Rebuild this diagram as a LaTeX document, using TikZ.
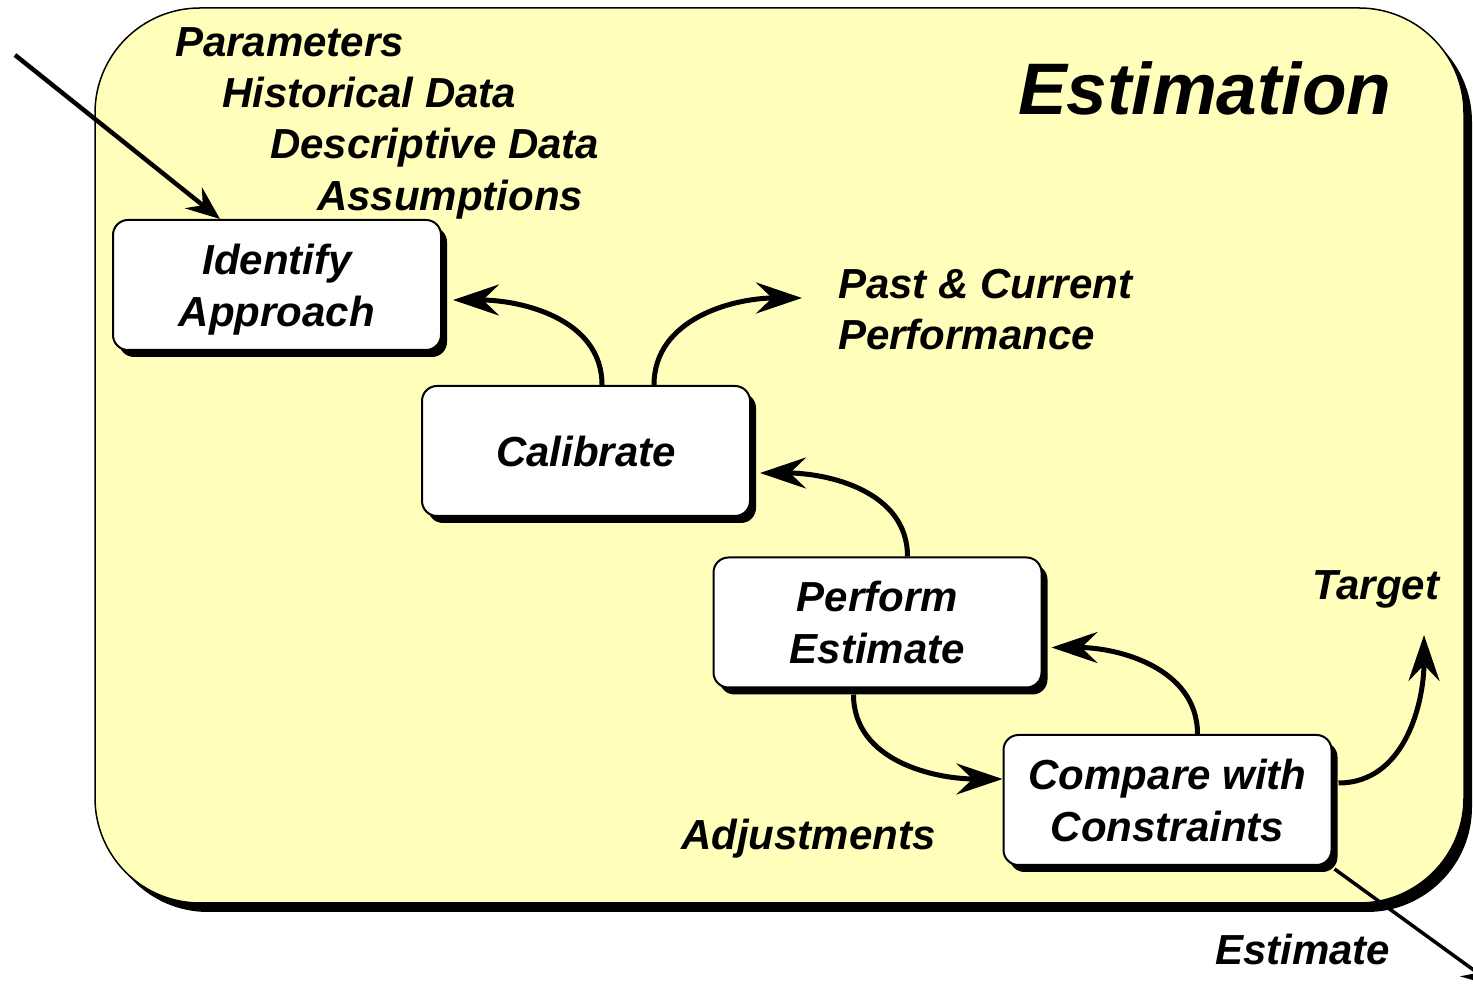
\documentclass[tikz,border=0pt]{standalone}
\usepackage{fontspec}
\setmainfont{Liberation Sans}
\usetikzlibrary{arrows.meta,shadows}
\definecolor{bgyellow}{RGB}{255,255,187}
\newcommand\boxfnt{\fontsize{42}{52}\selectfont\bfseries\itshape}
\newcommand\lblfnt{\fontsize{42}{51}\selectfont\bfseries\itshape}
\newcommand\titlefnt{\fontsize{73}{80}\selectfont\bfseries\itshape}
\begin{document}
\begin{tikzpicture}[x=1pt,y=1pt,
  frame/.style={draw, line width=1.5pt, fill=bgyellow, rounded corners=105pt,
    minimum width=1369pt, minimum height=895pt, inner sep=0pt,
    drop shadow={shadow xshift=8pt, shadow yshift=-9pt, fill=black, opacity=1}},
  box/.style={draw, line width=2pt, fill=white, rounded corners=15pt,
    minimum width=328pt, minimum height=130pt, inner sep=0pt, align=center, font=\boxfnt,
    drop shadow={shadow xshift=6pt, shadow yshift=-7pt, fill=black, opacity=1}},
  lbl/.style={anchor=base west, inner sep=0pt, font=\lblfnt},
  conn/.style={line width=5pt, -{Stealth[length=46pt,width=31pt,inset=16pt]}},
]
\useasboundingbox (0,0) rectangle (1473,985);
\clip (0,0) rectangle (1473,985);

\node[frame] (frame) at (779.5,529.5) {};

\node[anchor=base west, inner sep=0pt, font=\titlefnt] (title) at (1018,870) {Estimation};

\node[lbl] (par) at (175,928) {Parameters};
\node[lbl] (hist) at (222,877) {Historical Data};
\node[lbl] (desc) at (270,826) {Descriptive Data};
\node[lbl] (ass) at (317,774) {Assumptions};
\node[lbl, align=left] (past) at (838,635) {Past \& Current\\Performance};
\node[lbl] (target) at (1312,385) {Target};
\node[lbl] (adj) at (681,135) {Adjustments};
\node[lbl] (est) at (1215,20) {Estimate};

\node[box, text depth=-6pt] (id) at (277,700) {Identify\\Approach};
\node[box] (cal) at (586,534) {Calibrate};
\node[box, text depth=-14pt] (perf) at (877.5,362.5) {Perform\\Estimate};
\node[box, text depth=-4pt] (cmp) at (1167.5,185) {Compare with\\Constraints};

\coordinate (inp) at (15,930);
\coordinate (pst) at (802,687);
\coordinate (tgt) at (1424,350);
\coordinate (outp) at (1497,-2);

\draw[line width=4.5pt, -{Stealth[length=34pt,width=27pt,inset=12pt]}] (inp) -- ([xshift=-57pt]id.north);
\draw[conn] ([xshift=16pt]cal.north) to[out=90,in=0] ([xshift=11pt,yshift=-15pt]id.east);
\draw[conn] ([xshift=68pt]cal.north) to[out=90,in=180] (pst);
\draw[conn] ([xshift=30pt]perf.north) to[out=90,in=0] ([xshift=9pt,yshift=-22pt]cal.east);
\draw[conn] ([xshift=30pt]cmp.north) to[out=90,in=0] ([xshift=9pt,yshift=-25pt]perf.east);
\draw[conn] ([xshift=-24pt,yshift=-6pt]perf.south) to[out=-90,in=180] ([yshift=21pt]cmp.west);
\draw[conn] ([xshift=6pt,yshift=17pt]cmp.east) to[out=0,in=-90] (tgt);
\draw[line width=3.5pt, -{Stealth[length=36pt,width=26pt,inset=12pt]}] ([xshift=2pt,yshift=-3pt]cmp.south east) -- (outp);
\end{tikzpicture}
\end{document}
